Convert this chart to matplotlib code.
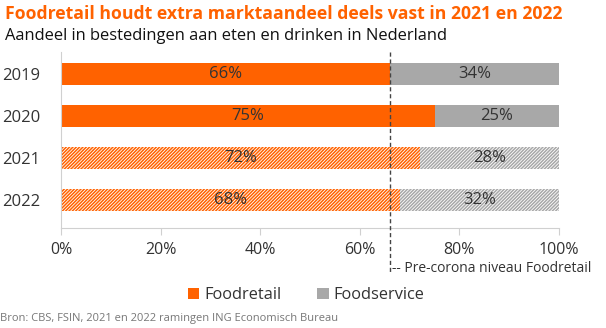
import matplotlib
matplotlib.use("Agg")
import matplotlib.pyplot as plt
from matplotlib.patches import Patch

years = ["2019", "2020", "2021", "2022"]
foodretail = [66, 75, 72, 68]
foodservice = [34, 25, 28, 32]
hatched = [False, False, True, True]
precorona = 66
xticks = [0, 20, 40, 60, 80, 100]

ORANGE = "#FF6200"
GRAY = "#A8A8A8"
TXT = "#333333"

plt.rcParams['font.family'] = ['Open Sans', 'DejaVu Sans']
plt.rcParams['hatch.linewidth'] = 1.1

fig = plt.figure(figsize=(6.06, 3.28), dpi=100)
ax = fig.add_axes([61/606, 1-228/328, (559-61)/606, 176/328])

for i, (y, fr, fs, h) in enumerate(zip(years, foodretail, foodservice, hatched)):
    if h:
        ax.barh(i, fr, height=0.52, color="white", edgecolor=ORANGE, hatch="//////////", linewidth=0)
        ax.barh(i, fs, left=fr, height=0.52, color="white", edgecolor=GRAY, hatch="//////////", linewidth=0)
    else:
        ax.barh(i, fr, height=0.52, color=ORANGE, linewidth=0)
        ax.barh(i, fs, left=fr, height=0.52, color=GRAY, linewidth=0)
    ax.text(fr/2, i, f"{fr}%", ha="center", va="center", fontsize=12, color=TXT)
    ax.text(fr + fs/2, i, f"{fs}%", ha="center", va="center", fontsize=12, color=TXT)

ax.set_xlim(0, 100)
ax.set_ylim(3.667, -0.52)
ax.set_yticks(range(len(years)))
ax.set_yticklabels(years, fontsize=12, color=TXT)
ax.set_xticks(xticks)
ax.set_xticklabels([f"{t}%" for t in xticks], fontsize=11.5, color=TXT)
ax.tick_params(axis="y", length=0, pad=15)
ax.tick_params(axis="x", length=5, color="#D0D0D0", pad=5)
for s in ["top", "right"]:
    ax.spines[s].set_visible(False)
ax.spines["left"].set_color("#D0D0D0")
ax.spines["bottom"].set_color("#D0D0D0")

ax.plot([precorona, precorona], [-0.52, 4.71], color="#444444", lw=1, ls=(0, (3, 2)), clip_on=False, zorder=5)
fig.text(392/606, 1-268/328, "-- Pre-corona niveau Foodretail", fontsize=10, color=TXT, va="center", ha="left")

handles = [Patch(facecolor=ORANGE, label="Foodretail"), Patch(facecolor=GRAY, label="Foodservice")]
fig.legend(handles=handles, loc="center", bbox_to_anchor=(306/606, 1-295/328), ncol=2, frameon=False,
           fontsize=11.8, handlelength=0.7, handleheight=0.7, handletextpad=0.3, columnspacing=2.2,
           labelcolor=TXT)

fig.text(5/606, 1-14/328, "Foodretail houdt extra marktaandeel deels vast in 2021 en 2022",
         fontsize=12.7, fontweight="bold", color=ORANGE, va="center", ha="left")
fig.text(5/606, 1-36/328, "Aandeel in bestedingen aan eten en drinken in Nederland",
         fontsize=11.9, color="#111111", va="center", ha="left")
fig.text(0, 1-318/328, "Bron: CBS, FSIN, 2021 en 2022 ramingen ING Economisch Bureau",
         fontsize=8, color="#777777", va="center", ha="left")

fig.savefig("out.png", dpi=100)
